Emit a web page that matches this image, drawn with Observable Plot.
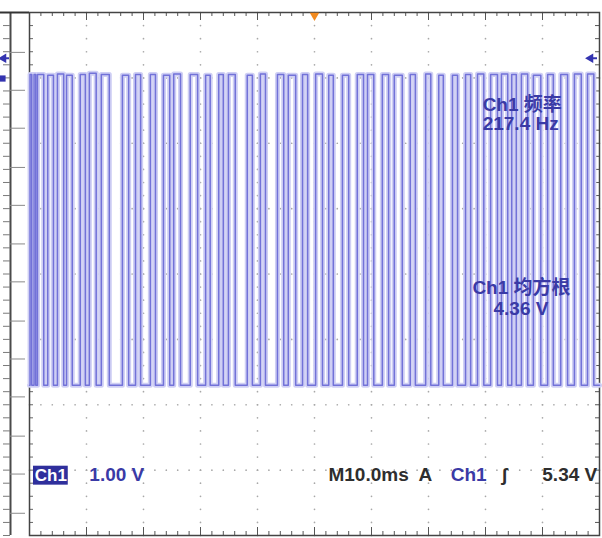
<!DOCTYPE html>
<html><head><meta charset="utf-8">
<script src="https://cdn.jsdelivr.net/npm/d3@7"></script>
<script src="https://cdn.jsdelivr.net/npm/@observablehq/plot@0.6"></script>
<style>body{margin:0;background:#fff;} #chart svg{display:block}</style>
</head><body><div id="chart"></div>
<script>
const timeDomainMs = [-50, 50];      // 10 div x 10.0 ms
const voltDomain = [-1, 7];          // 8 div x 1.00 V
const lowLevelV = 1.3;
const pulseStartsMs = [-49.9,-49.2,-48.6,-46.8,-45.1,-43.5,-41.1,-39.5,-37.4,-33.7,-31.4,-28.8,-26.5,-24.7,-21.8,-19.1,-16.8,-15.1,-11.8,-9.5,-6.5,-4.6,-2.1,0.2,2.5,4.9,7.5,9.3,11.9,14.0,16.8,19.5,21.8,24.2,26.5,28.6,30.9,32.8,34.6,36.3,38.4,40.9,43.2,45.6,47.9];
const pulseEndsMs   = [-49.6,-48.9,-47.5,-45.8,-44.0,-42.5,-40.2,-38.3,-36.0,-32.6,-30.5,-27.9,-25.4,-23.5,-20.5,-18.3,-16.0,-13.9,-10.9,-8.6,-5.4,-3.3,-1.2,1.4,3.3,6.0,8.6,10.4,13.0,15.4,17.7,20.4,22.6,25.1,27.4,29.7,32.1,33.9,35.4,37.4,39.7,41.9,44.4,46.8,49.0];
const pulseHighsV   = [6.05,6.05,6.05,6.04,6.06,6.04,6.05,6.07,6.05,6.04,6.05,6.05,6.04,6.06,6.05,6.04,6.05,6.05,6.04,6.06,6.05,6.04,6.05,6.06,6.04,6.04,6.05,6.05,6.05,6.04,6.05,6.06,6.04,6.04,6.05,6.06,6.05,6.06,6.05,6.06,6.04,6.05,6.05,6.06,6.06];
const triggerMarkerV = 6.3;
const channelMarkerV = 5.99;
const leftScaleMajorV = [6.39,5.81,5.23,4.63,4.05,3.46,2.88,2.28,1.70,1.12,0.52,-0.06,-0.66];
const channelLabel = "Ch1";
const scaleLabel = "1.00 V";
const timebaseLabel = "M10.0ms";
const triggerSource = "A";
const slopeSymbol = "ʃ";
const triggerLevelLabel = "5.34 V";
const measureNames = ["Ch1 频率", "Ch1 均方根"];
const measureValues = ["217.4 Hz", "4.36 V"];

// ---- derived tables ----
const W = 602, H = 538, mL = 29, mR = 3, mT = 12, mB = 3;
const innerW = W - mL - mR, innerH = H - mT - mB;
const trace = [{t: timeDomainMs[0], v: lowLevelV}];
pulseStartsMs.forEach((a, i) => {
  const b = pulseEndsMs[i], h = pulseHighsV[i];
  trace.push({t: a, v: lowLevelV}, {t: a, v: h}, {t: b, v: h}, {t: b, v: lowLevelV});
});
trace.push({t: timeDomainMs[1], v: lowLevelV});

const majorX = d3.range(timeDomainMs[0], timeDomainMs[1] + 0.01, 10);
const minorX = d3.range(timeDomainMs[0], timeDomainMs[1] + 0.01, 2);
const majorY = d3.range(voltDomain[0], voltDomain[1] + 0.01, 1);
const minorY = d3.range(voltDomain[0], voltDomain[1] + 0.01, 0.2);
const innerMajorX = majorX.slice(1, -1), innerMajorY = majorY.slice(1, -1);
const gridDots = [];
innerMajorX.forEach(x => minorY.forEach(y => gridDots.push({x, y})));
innerMajorY.forEach(y => minorX.forEach(x => gridDots.push({x, y})));

const font = "Liberation Sans, Arial, Noto Sans CJK SC, sans-serif";
const blue = "#3a3aa6";
const dark = "#2e2e2e";

const chart = Plot.plot({
  width: W, height: H,
  marginLeft: mL, marginRight: mR, marginTop: mT, marginBottom: mB,
  x: {domain: timeDomainMs, axis: null},
  y: {domain: voltDomain, axis: null},
  style: {background: "#fff", fontFamily: font},
  marks: [
    // graticule dots
    Plot.dot(gridDots, {x: "x", y: "y", r: 0.85, fill: "#a8a8a8", stroke: null}),
    // border ticks (top / bottom / left / right)
    Plot.tickX(minorX, {x: d => d, insetBottom: innerH - 4, stroke: "#555"}),
    Plot.tickX(majorX, {x: d => d, insetBottom: innerH - 8, stroke: "#555"}),
    Plot.tickX(minorX, {x: d => d, insetTop: innerH - 4, stroke: "#555"}),
    Plot.tickX(majorX, {x: d => d, insetTop: innerH - 8, stroke: "#555"}),
    Plot.tickY(minorY, {y: d => d, insetRight: innerW - 4, stroke: "#666"}),
    Plot.tickY(minorY, {y: d => d, insetLeft: innerW - 4, stroke: "#555"}),
    // left side scale strip
    Plot.ruleX([timeDomainMs[0]], {dx: -19, stroke: "#4a4a4a", strokeWidth: 2}),
    Plot.tickY(leftScaleMajorV, {y: d => d, dx: -19, insetRight: innerW - 15, stroke: "#8a8a8a"}),
    Plot.tickY(minorY, {y: d => d, dx: -26, insetRight: innerW - 7, stroke: "#7a7a7a"}),
    Plot.tickY([voltDomain[1]], {y: d => d, dx: -29, insetRight: innerW - 29, stroke: "#333", strokeWidth: 2}),
    // frame
    Plot.frame({stroke: "#444", strokeWidth: 1.5}),
    // waveform (halo + trace)
    Plot.line(trace, {x: "t", y: "v", stroke: "#cfcff4", strokeWidth: 5, strokeLinejoin: "round"}),
    Plot.line(trace, {x: "t", y: "v", stroke: "#7272d8", strokeWidth: 1.5, strokeLinejoin: "round"}),
    // markers
    Plot.dot([0], {x: d => d, frameAnchor: "top", symbol: "triangle", rotate: 180, r: 3.5, fill: "#f28a1e", stroke: null, dy: 3}),
    Plot.dot([triggerMarkerV], {y: d => d, frameAnchor: "right", symbol: "triangle", rotate: -90, r: 3.5, fill: "#3434b0", stroke: null, dx: -9}),
    Plot.tickY([triggerMarkerV], {y: d => d, insetLeft: innerW - 6, dx: -2, stroke: "#3434b0", strokeWidth: 2}),
    Plot.dot([triggerMarkerV], {y: d => d, frameAnchor: "left", symbol: "triangle", rotate: -90, r: 3.5, fill: "#3434b0", stroke: null, dx: -26}),
    Plot.tickY([triggerMarkerV], {y: d => d, dx: -25, insetRight: innerW - 5, stroke: "#3434b0", strokeWidth: 2}),
    Plot.dot([channelMarkerV], {y: d => d, frameAnchor: "left", symbol: "square", r: 3.5, fill: "#3434b0", stroke: null, dx: -27}),
    // bottom status line
    Plot.rect([channelLabel], {x1: -49.3, x2: -43.2, y1: 0.06, y2: -0.23, fill: "#2f2f9c"}),
    Plot.text([channelLabel], {x: -46.25, y: -0.08, text: d => d, fill: "#fff", fontSize: 17, fontWeight: "bold"}),
    Plot.text([scaleLabel], {x: -39.5, y: -0.07, text: d => d, textAnchor: "start", fill: blue, fontSize: 19, fontWeight: "bold"}),
    Plot.text([timebaseLabel], {x: 2.45, y: -0.07, text: d => d, textAnchor: "start", fill: dark, fontSize: 19, fontWeight: "bold"}),
    Plot.text([triggerSource], {x: 18.25, y: -0.07, text: d => d, textAnchor: "start", fill: dark, fontSize: 19, fontWeight: "bold"}),
    Plot.text([channelLabel], {x: 23.9, y: -0.07, text: d => d, textAnchor: "start", fill: blue, fontSize: 19, fontWeight: "bold"}),
    Plot.text([slopeSymbol], {x: 33.3, y: -0.07, text: d => d, fill: dark, fontSize: 19, fontWeight: "bold"}),
    Plot.text([triggerLevelLabel], {x: 49.6, y: -0.07, text: d => d, textAnchor: "end", fill: dark, fontSize: 19, fontWeight: "bold"}),
    // measurements
    Plot.text([measureNames[0]], {x: 29.5, y: 5.59, text: d => d, textAnchor: "start", fill: blue, fontSize: 19, fontWeight: "bold"}),
    Plot.text([measureValues[0]], {x: 29.5, y: 5.30, text: d => d, textAnchor: "start", fill: blue, fontSize: 19, fontWeight: "bold"}),
    Plot.text([measureNames[1]], {x: 27.7, y: 2.78, text: d => d, textAnchor: "start", fill: blue, fontSize: 19, fontWeight: "bold"}),
    Plot.text([measureValues[1]], {x: 31.4, y: 2.46, text: d => d, textAnchor: "start", fill: blue, fontSize: 19, fontWeight: "bold"})
  ]
});
document.getElementById("chart").append(chart);
</script>
</body></html>
